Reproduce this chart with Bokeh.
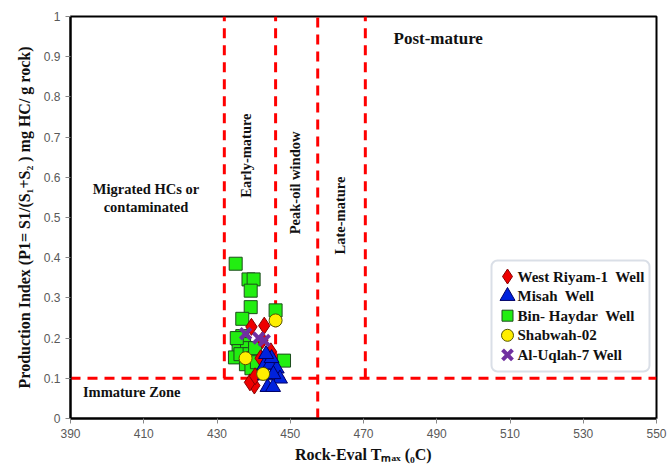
from bokeh.plotting import figure
from bokeh.models import Label, FixedTicker, Range1d, BoxAnnotation
from bokeh.embed import file_html
from bokeh.resources import INLINE

# Tmax (°C) and production index for each well
west_riyam_tmax = [442.9, 439.4, 444.7, 440.2, 439.0, 441.9, 440.4, 442.4]
west_riyam_pi = [0.231, 0.228, 0.167, 0.082, 0.090, 0.150, 0.105, 0.195]

misah_tmax = [442.9, 444.4, 446.3, 447.2, 443.8, 445.3, 443.1, 444.9, 443.4, 445.4]
misah_pi = [0.132, 0.134, 0.124, 0.099, 0.078, 0.078, 0.107, 0.150, 0.160, 0.110]

bin_haydar_tmax = [435.1, 438.6, 440.0, 439.2, 439.2, 436.9, 446.0, 435.8, 436.9, 437.4,
                   435.9, 438.2, 434.9, 436.4, 438.9, 439.9, 437.9, 439.4, 440.9, 448.3,
                   435.4, 440.4]
bin_haydar_pi = [0.385, 0.346, 0.346, 0.318, 0.277, 0.248, 0.269, 0.198, 0.205, 0.185,
                 0.170, 0.175, 0.152, 0.160, 0.160, 0.150, 0.135, 0.125, 0.140, 0.144,
                 0.200, 0.175]

shabwah_tmax = [446.0, 437.8, 442.6]
shabwah_pi = [0.244, 0.150, 0.111]

uqlah_tmax = [437.8, 442.9, 441.4]
uqlah_pi = [0.211, 0.194, 0.200]

# non-breaking spaces keep the double gaps in the names
well_names = ["West Riyam-1\u00a0 Well", "Misah\u00a0 Well", "Bin- Haydar\u00a0 Well",
              "Shabwah-02", "Al-Uqlah-7 Well"]

# maturity zone boundaries
tmax_bounds = [432, 446, 470.5]
peak_end = 457.5
pi_immature = 0.1

x_ticks = list(range(390, 551, 20))
y_ticks = [i / 10 for i in range(11)]
y_tick_labels = {t: ("0" if t == 0 else "1" if t == 1 else f"{t:.1f}") for t in y_ticks}

serif = "Liberation Serif"
W, H = 667, 465
BORDER = dict(left=70, right=11, top=16, bottom=47)
FRAME_W = W - BORDER["left"] - BORDER["right"]
FRAME_H = H - BORDER["top"] - BORDER["bottom"]

p = figure(width=W, height=H, output_backend="svg", toolbar_location=None,
           x_range=Range1d(390, 550), y_range=Range1d(0, 1),
           min_border_left=BORDER["left"], min_border_right=BORDER["right"],
           min_border_top=BORDER["top"], min_border_bottom=BORDER["bottom"])
# pixel-based ranges used to lay out the legend box inside the frame
p.extra_x_ranges = {"px": Range1d(0, FRAME_W)}
p.extra_y_ranges = {"py": Range1d(0, FRAME_H)}

p.xgrid.visible = False
p.ygrid.visible = False
p.outline_line_color = "black"
p.outline_line_width = 2

for ax in (p.xaxis[0], p.yaxis[0]):
    ax.axis_line_color = "black"
    ax.axis_line_width = 2
    ax.major_tick_line_color = "#888888"
    ax.major_tick_out = 5
    ax.major_tick_in = 0
    ax.minor_tick_line_color = None
    ax.major_label_text_font = "Liberation Sans"
    ax.major_label_text_font_size = "12px"
    ax.major_label_text_color = "#595959"
    ax.axis_label_text_font = serif
    ax.axis_label_text_font_style = "bold"
    ax.axis_label_text_font_size = "16px"
    ax.axis_label_text_color = "#111111"

p.xaxis.ticker = FixedTicker(ticks=x_ticks)
p.yaxis.ticker = FixedTicker(ticks=y_ticks)
p.yaxis.major_label_overrides = y_tick_labels
p.xaxis.axis_label = "Rock-Eval Tₘₐₓ (₀C)"
p.yaxis.axis_label = "Production Index (P1= S1/(S₁+S₂ ) mg HC/ g rock)"
p.xaxis.axis_label_standoff = 5
p.yaxis.axis_label_standoff = 8

# zone boundaries
red = "#ff0000"
dash = "10 7"
p.segment(x0=tmax_bounds, y0=[pi_immature] * 3, x1=tmax_bounds, y1=[1] * 3,
          line_color=red, line_width=3, line_dash=dash)
p.segment(x0=[peak_end], y0=[0], x1=[peak_end], y1=[1],
          line_color=red, line_width=3, line_dash=dash)
p.segment(x0=[390], y0=[pi_immature], x1=[550], y1=[pi_immature],
          line_color=red, line_width=3, line_dash=dash)

# marker style per well: (marker, plot size, legend size, fill, outline, line width)
styles = [
    ("diamond", 17, 15, "#ee0000", "#880000", 1),
    ("triangle", 15, 15, "#0022dd", "#000066", 1),
    ("square", 13, 11, "#22ee11", "#1d4d1d", 1),
    ("circle", 13, 12, "#ffee00", "#555500", 1),
    ("x", 15, 14, None, "#7030a0", 4),
]
series = [(west_riyam_tmax, west_riyam_pi), (misah_tmax, misah_pi),
          (bin_haydar_tmax, bin_haydar_pi), (shabwah_tmax, shabwah_pi),
          (uqlah_tmax, uqlah_pi)]

# draw order: squares first so the other wells sit on top
for i in [2, 0, 1, 3, 4]:
    marker, size, _, fill, line, lw = styles[i]
    xs, ys = series[i]
    p.scatter(xs, ys, marker=marker, size=size, fill_color=fill,
              line_color=line, line_width=lw)

# zone names
def zone_label(x, y, text, angle=0.0, align="left", size="14.5px"):
    p.add_layout(Label(x=x, y=y, text=text, angle=angle, text_align=align,
                       text_baseline="middle", text_font=serif, text_font_style="bold",
                       text_font_size=size, text_color="#111111"))

zone_label(478.2, 0.945, "Post-mature", size="17px")
zone_label(410.6, 0.572, "Migrated HCs or", align="center")
zone_label(410.6, 0.525, "contaminated", align="center")
zone_label(393.4, 0.066, "Immature Zone")
zone_label(438.0, 0.654, "Early-mature", angle=1.5708, align="center")
zone_label(451.3, 0.586, "Peak-oil window", angle=1.5708, align="center")
zone_label(463.5, 0.505, "Late-mature", angle=1.5708, align="center")

# legend box (pixel layout within the frame)
box_left, box_right, box_bottom, box_top = 421, 579, 47, 158
row_top, row_step = 142, 19.6
swatch_x, text_x = 437, 447

p.add_layout(BoxAnnotation(left=box_left, right=box_right, bottom=box_bottom, top=box_top,
                           x_range_name="px", y_range_name="py",
                           fill_color="white", fill_alpha=1.0,
                           line_color="#8496b0", line_width=2, border_radius=6))
for k, name in enumerate(well_names):
    marker, _, lsize, fill, line, lw = styles[k]
    ry = row_top - k * row_step
    p.scatter([swatch_x], [ry], marker=marker, size=lsize, fill_color=fill,
              line_color=line, line_width=lw, x_range_name="px", y_range_name="py",
              level="overlay")
    p.add_layout(Label(x=text_x, y=ry, text=name, x_range_name="px", y_range_name="py",
                       text_baseline="middle", text_font=serif, text_font_style="bold",
                       text_font_size="15px", text_color="#111111", level="overlay"))

open("out.html", "w").write(file_html(p, INLINE))
